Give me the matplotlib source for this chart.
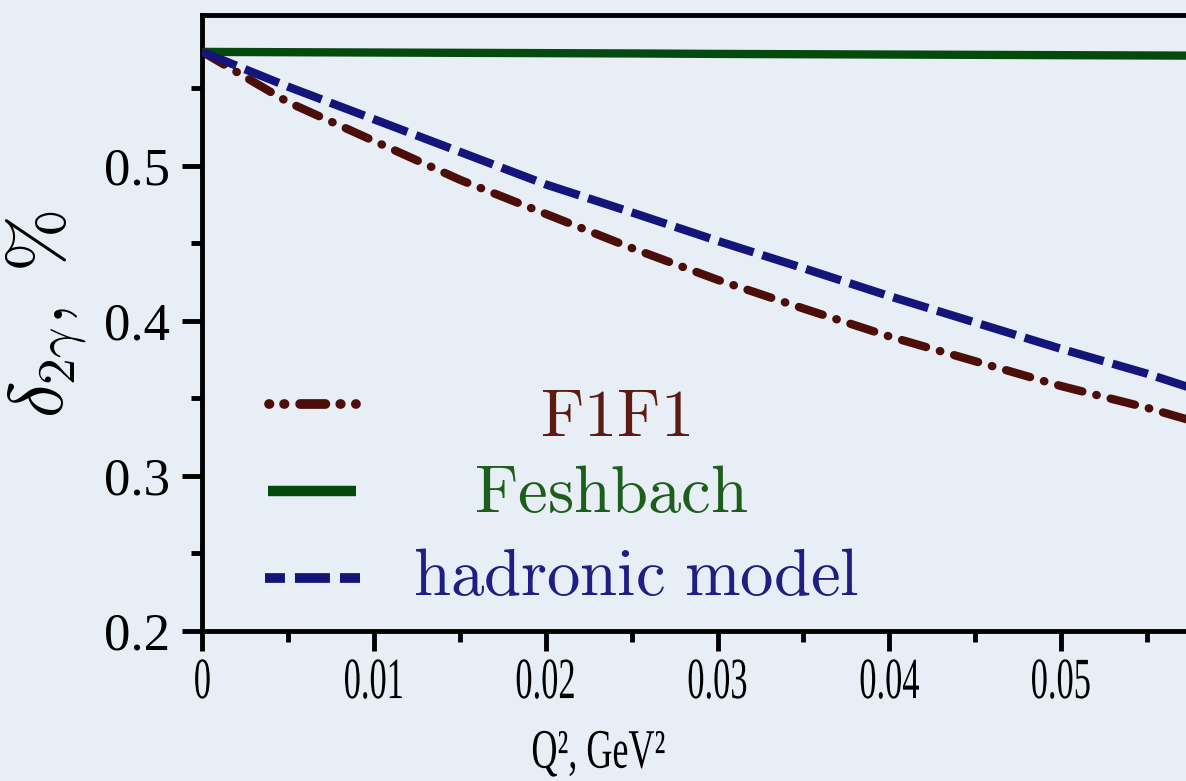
import matplotlib
matplotlib.use('Agg')
import matplotlib.pyplot as plt
from matplotlib.patheffects import AbstractPathEffect
from matplotlib.transforms import Affine2D
from matplotlib.ticker import MultipleLocator

# two-photon exchange correction vs momentum transfer
q2 = [0, 0.005, 0.01, 0.015, 0.02, 0.025, 0.03, 0.035, 0.04, 0.045, 0.05, 0.055, 0.0575]
f1f1 = [0.5735, 0.541, 0.516, 0.491, 0.469, 0.447, 0.4265, 0.408, 0.390, 0.374, 0.358, 0.344, 0.336]
feshbach = [0.5735, 0.5733, 0.5731, 0.5729, 0.5727, 0.5725, 0.5722, 0.5720, 0.5718, 0.5716, 0.5714,
            0.5712, 0.5711]
hadronic = [0.5735, 0.551, 0.530, 0.509, 0.488, 0.470, 0.4516, 0.434, 0.416, 0.399, 0.382, 0.366, 0.357]

x_ticks = [0, 0.01, 0.02, 0.03, 0.04, 0.05]
x_tick_labels = ['0', '0.01', '0.02', '0.03', '0.04', '0.05']
y_ticks = [0.2, 0.3, 0.4, 0.5]
y_tick_labels = ['0.2', '0.3', '0.4', '0.5']

names = ['F1F1', 'Feshbach', 'hadronic model']

plt.rcParams['font.family'] = 'serif'
plt.rcParams['font.serif'] = ['Liberation Serif', 'DejaVu Serif']
plt.rcParams['mathtext.fontset'] = 'cm'

BG = '#e7eef6'
C_F1F1, T_F1F1 = '#4c0e08', '#5c1a12'
C_FESH, T_FESH = '#044a0c', '#1d5e1d'
C_HADR, T_HADR = '#14147a', '#1e1e85'


class Squeeze(AbstractPathEffect):
    """Draw text narrowed horizontally about its own centre."""

    def __init__(self, factor):
        super().__init__()
        self.factor = factor

    def draw_path(self, renderer, gc, tpath, affine, rgbFace=None):
        box = tpath.get_extents(affine)
        cx = 0.5 * (box.x0 + box.x1)
        narrow = Affine2D().translate(-cx, 0).scale(self.factor, 1).translate(cx, 0)
        renderer.draw_path(gc, tpath, affine + narrow, rgbFace)


fig = plt.figure(figsize=(11.86, 7.81), dpi=100, facecolor=BG)
ax = fig.add_axes([0.1707, 0.1921, 0.8686, 0.7881])
ax.set_facecolor(BG)

ax.plot(q2, f1f1, color=C_F1F1, lw=6, linestyle=(0, (3.0, 1.72, 0.06, 1.72)),
        dash_capstyle='round', zorder=3)
ax.plot(q2, feshbach, color=C_FESH, lw=6, solid_capstyle='butt', zorder=3)
ax.plot(q2, hadronic, color=C_HADR, lw=6, linestyle=(0, (4.4, 1.1)),
        dash_capstyle='butt', zorder=4)

ax.set_xlim(0, 0.06)
ax.set_ylim(0.2, 0.597)
ax.set_xticks(x_ticks, x_tick_labels)
ax.set_yticks(y_ticks, y_tick_labels)
ax.xaxis.set_minor_locator(MultipleLocator(0.005))
ax.yaxis.set_minor_locator(MultipleLocator(0.05))

ax.tick_params(which='both', direction='out', width=3.5, colors='black',
               top=False, right=False)
ax.tick_params(which='major', length=14.5, labelsize=38, pad=9)
ax.tick_params(axis='x', which='major', labelsize=42, pad=5)
ax.tick_params(which='minor', length=7.8)
for s in ax.spines.values():
    s.set_linewidth(3.5)

for lbl in ax.get_xticklabels():
    lbl.set_path_effects([Squeeze(0.59)])

ax.set_xlabel('Q², GeV²', fontsize=40)
ax.xaxis.label.set_va('baseline')
ax.xaxis.label.set_path_effects([Squeeze(0.65)])
ax.xaxis.set_label_coords(0.384, -0.222)

ax.set_ylabel(r'$\delta_{2\gamma},\;\%$', fontsize=55)
ax.yaxis.label.set_va('center')
ax.yaxis.set_label_coords(-0.151, 0.514)

# hand-made legend: short line samples with centred coloured names
ax.plot([0.0646, 0.1490], [0.3688, 0.3688], transform=ax.transAxes, color=C_F1F1, lw=7,
        linestyle=(0, (0.05, 1.5, 0.05, 1.6, 2.6, 1.53, 0.05, 1.55, 0.05, 3)),
        dash_capstyle='round', clip_on=False)
ax.plot([0.0636, 0.1490], [0.2275, 0.2275], transform=ax.transAxes, color=C_FESH, lw=7.5,
        solid_capstyle='butt', clip_on=False)
ax.plot([0.0606, 0.1528], [0.0861, 0.0861], transform=ax.transAxes, color=C_HADR, lw=7,
        linestyle=(1.55, (3.6, 1.03)), dash_capstyle='butt', clip_on=False)

ax.text(0.4004, 0.3168, r'$\mathrm{%s}$' % names[0], transform=ax.transAxes,
        ha='center', va='baseline', fontsize=48, color=T_F1F1)
ax.text(0.3966, 0.1933, r'$\mathrm{%s}$' % names[1], transform=ax.transAxes,
        ha='center', va='baseline', fontsize=48, color=T_FESH)
ax.text(0.4208, 0.0585, r'$\mathrm{hadronic\ model}$', transform=ax.transAxes,
        ha='center', va='baseline', fontsize=48, color=T_HADR)

fig.savefig('out.png', dpi=100, facecolor=BG)
